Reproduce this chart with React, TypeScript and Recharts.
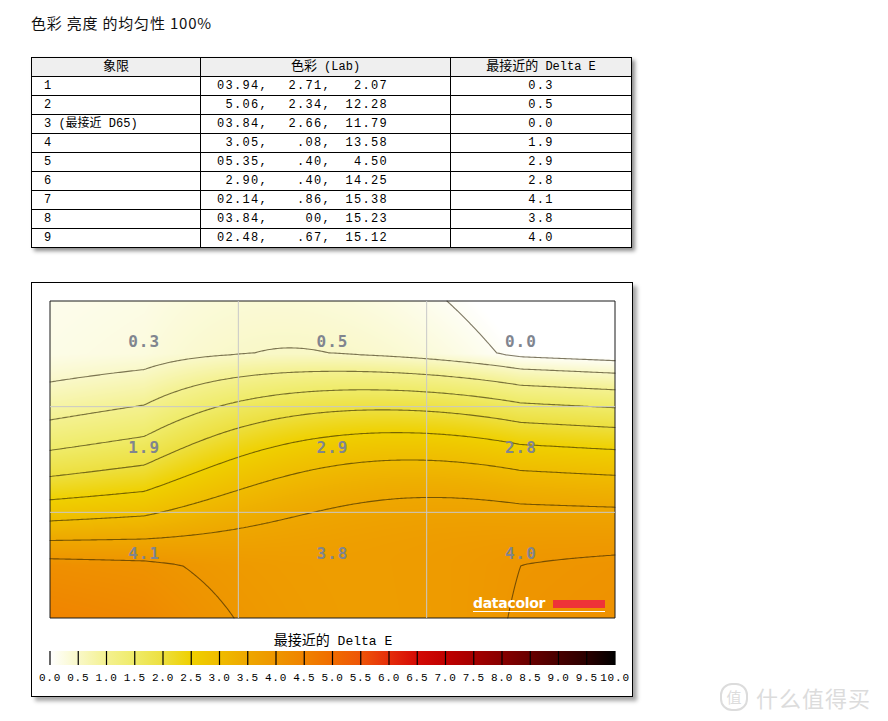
import React, { useMemo } from 'react';
import { ComposedChart, XAxis, YAxis, Scatter, ReferenceArea, ReferenceLine } from 'recharts';

// 9 measured quadrants, row-major (1-3 top row, 7-9 bottom row)
const quadrants = ['1', '2', '3 (最接近 D65)', '4', '5', '6', '7', '8', '9'];
const labL = ['03.94,', '5.06,', '03.84,', '3.05,', '05.35,', '2.90,', '02.14,', '03.84,', '02.48,'];
const labA = ['2.71,', '2.34,', '2.66,', '.08,', '.40,', '.40,', '.86,', '00,', '.67,'];
const labB = ['2.07', '12.28', '11.79', '13.58', '4.50', '14.25', '15.38', '15.23', '15.12'];
const deltaE = [0.3, 0.5, 0.0, 1.9, 2.9, 2.8, 4.1, 3.8, 4.0];

const legendTicks = [0, 0.5, 1, 1.5, 2, 2.5, 3, 3.5, 4, 4.5, 5, 5.5, 6, 6.5, 7, 7.5, 8, 8.5, 9, 9.5, 10];
const contourLevels = [0.1, 0.5, 1, 1.5, 2, 2.5, 3, 3.5, 4];

// colour ramp, one stop per legend boundary
const ramp = [
  '#ffffff', '#f9f8c8', '#f4f190', '#efeb68', '#eddf3e', '#efd000', '#efbc00', '#eea700',
  '#ee9600', '#f08300', '#f06c00', '#ee5508', '#e52d0a', '#d40a05', '#c00000', '#a50000',
  '#880000', '#680000', '#480000', '#2a0000', '#000000',
];

const mono = '"Liberation Mono", "Noto Sans CJK SC", monospace';
const cjk = '"Noto Sans CJK SC", sans-serif';

const cellPoints = deltaE.map((v, i) => ({ x: (i % 3) + 0.5, y: Math.floor(i / 3) + 0.5, v }));
const legendPoints = legendTicks.map((t) => ({ x: t, y: 0.5 }));

function hexRgb(h: string) {
  return [parseInt(h.slice(1, 3), 16), parseInt(h.slice(3, 5), 16), parseInt(h.slice(5, 7), 16)];
}
const rampRgb = ramp.map(hexRgb);

function colorAt(v: number) {
  const p = Math.max(0, Math.min(10, v)) / 0.5;
  const i = Math.min(19, Math.floor(p));
  const t = p - i;
  const a = rampRgb[i];
  const b = rampRgb[i + 1];
  return [0, 1, 2].map((k) => Math.round(a[k] + (b[k] - a[k]) * t));
}

// quadratic-slope Hermite through the three cell centres, damped linear run-out to the edges
function along(v0: number, v1: number, v2: number, s: number, kLo: number, kHi: number) {
  const p = [v0, v1, v2];
  const m = [(-3 * v0 + 4 * v1 - v2) / 2, (v2 - v0) / 2, (v0 - 4 * v1 + 3 * v2) / 2];
  const u = s - 0.5;
  if (u <= 0) return v0 + m[0] * u * kLo;
  if (u >= 2) return v2 + m[2] * (u - 2) * kHi;
  const i = u < 1 ? 0 : 1;
  const t = u - i;
  const t2 = t * t;
  const t3 = t2 * t;
  return (2 * t3 - 3 * t2 + 1) * p[i] + (t3 - 2 * t2 + t) * m[i] + (-2 * t3 + 3 * t2) * p[i + 1] + (t3 - t2) * m[i + 1];
}

function field(x: number, y: number) {
  const r = [0, 1, 2].map((k) => along(deltaE[k * 3], deltaE[k * 3 + 1], deltaE[k * 3 + 2], x, 0.3, 0.3));
  return along(r[0], r[1], r[2], y, 0.1, 0.2);
}

function HeatLayer(props: any) {
  const x = props.x;
  const y = props.y;
  const w = Math.abs(props.width);
  const h = Math.abs(props.height);
  const url = useMemo(() => {
    const W = Math.round(w);
    const H = Math.round(h);
    const cv = document.createElement('canvas');
    cv.width = W;
    cv.height = H;
    const ctx = cv.getContext('2d');
    if (!ctx) return '';
    const img = ctx.createImageData(W, H);
    for (let j = 0; j < H; j++) {
      for (let i = 0; i < W; i++) {
        const c = colorAt(field(((i + 0.5) / W) * 3, ((j + 0.5) / H) * 3));
        const o = (j * W + i) * 4;
        img.data[o] = c[0];
        img.data[o + 1] = c[1];
        img.data[o + 2] = c[2];
        img.data[o + 3] = 255;
      }
    }
    ctx.putImageData(img, 0, 0);
    return cv.toDataURL();
  }, [w, h]);
  return <image href={url} x={x} y={y} width={w} height={h} preserveAspectRatio="none" />;
}

function ContourLayer(props: any) {
  const x0 = props.x;
  const y0 = props.y;
  const w = Math.abs(props.width);
  const h = Math.abs(props.height);
  const paths = useMemo(() => {
    const step = 2;
    const nx = Math.ceil(w / step);
    const ny = Math.ceil(h / step);
    const sx = w / nx;
    const sy = h / ny;
    const grid: number[] = [];
    for (let j = 0; j <= ny; j++)
      for (let i = 0; i <= nx; i++) grid.push(field((i / nx) * 3, (j / ny) * 3));
    const g = (i: number, j: number) => grid[j * (nx + 1) + i];
    return contourLevels.map((lv) => {
      let d = '';
      for (let j = 0; j < ny; j++) {
        for (let i = 0; i < nx; i++) {
          const a = g(i, j) - lv;
          const b = g(i + 1, j) - lv;
          const c = g(i + 1, j + 1) - lv;
          const e = g(i, j + 1) - lv;
          const pts: number[][] = [];
          if (a > 0 !== b > 0) pts.push([x0 + (i + a / (a - b)) * sx, y0 + j * sy]);
          if (b > 0 !== c > 0) pts.push([x0 + (i + 1) * sx, y0 + (j + b / (b - c)) * sy]);
          if (e > 0 !== c > 0) pts.push([x0 + (i + e / (e - c)) * sx, y0 + (j + 1) * sy]);
          if (a > 0 !== e > 0) pts.push([x0 + i * sx, y0 + (j + a / (a - e)) * sy]);
          for (let k = 0; k + 1 < pts.length; k += 2) {
            d += `M${pts[k][0].toFixed(2)},${pts[k][1].toFixed(2)}L${pts[k + 1][0].toFixed(2)},${pts[k + 1][1].toFixed(2)}`;
          }
        }
      }
      return d;
    });
  }, [x0, y0, w, h]);
  return (
    <g>
      {paths.map((d, i) => (
        <path key={i} d={d} fill="none" stroke="rgba(40,30,0,0.6)" strokeWidth={1.1} strokeLinecap="round" />
      ))}
    </g>
  );
}

function CellLabel(props: any) {
  return (
    <text x={props.cx} y={props.cy - 12} textAnchor="middle" dominantBaseline="central"
      fontFamily='"DejaVu Sans Mono", monospace' fontWeight="bold" fontSize={16} fill="#80858f" letterSpacing={1}>
      {props.payload.v.toFixed(1)}
    </text>
  );
}

function LegendBar(props: any) {
  const w = Math.abs(props.width);
  const h = Math.abs(props.height);
  return (
    <g>
      <defs>
        <linearGradient id="deRamp" x1="0" y1="0" x2="1" y2="0">
          {ramp.map((c, i) => (
            <stop key={i} offset={`${(i / 20) * 100}%`} stopColor={c} />
          ))}
        </linearGradient>
      </defs>
      <rect x={props.x} y={props.y} width={w} height={h} fill="url(#deRamp)" />
    </g>
  );
}

const cell: React.CSSProperties = { border: '1px solid #000', padding: 0, height: 18, lineHeight: '18px' };
const headCell: React.CSSProperties = { ...cell, height: 17, lineHeight: '17px', background: '#efefef', textAlign: 'center' };

export default function App() {
  return (
    <div style={{ position: 'absolute', left: 0, top: 0, width: 888, height: 721, background: '#fff', overflow: 'hidden' }}>
      <div style={{ position: 'absolute', left: 31, top: 12, fontFamily: cjk, fontSize: 15, letterSpacing: 0.8, color: '#111', whiteSpace: 'pre' }}>
        色彩 亮度 的均匀性 100%
      </div>

      <table style={{ position: 'absolute', left: 31, top: 57, width: 601, borderCollapse: 'collapse', fontFamily: mono, fontSize: 12, color: '#000', boxShadow: '3px 3px 4px rgba(0,0,0,0.45)', tableLayout: 'fixed' }}>
        <colgroup>
          <col style={{ width: 169 }} />
          <col style={{ width: 250 }} />
          <col style={{ width: 181 }} />
        </colgroup>
        <thead>
          <tr>
            <th style={{ ...headCell, fontWeight: 'normal' }}><span style={{ fontSize: 13 }}>象限</span></th>
            <th style={{ ...headCell, fontWeight: 'normal' }}><span style={{ fontSize: 13 }}>色彩</span> (Lab)</th>
            <th style={{ ...headCell, fontWeight: 'normal' }}><span style={{ fontSize: 13 }}>最接近的</span> Delta E</th>
          </tr>
        </thead>
        <tbody>
          {quadrants.map((q, i) => (
            <tr key={q}>
              <td style={{ ...cell, paddingLeft: 12 }}>{q}</td>
              <td style={{ ...cell, whiteSpace: 'pre', letterSpacing: 1.3 }}>
                <span style={{ display: 'inline-block', width: 67, textAlign: 'right' }}>{labL[i]}</span>
                <span style={{ display: 'inline-block', width: 63, textAlign: 'right' }}>{labA[i]}</span>
                <span style={{ display: 'inline-block', width: 57, textAlign: 'right' }}>{labB[i]}</span>
              </td>
              <td style={{ ...cell, textAlign: 'center', letterSpacing: 1.3 }}>{deltaE[i].toFixed(1)}</td>
            </tr>
          ))}
        </tbody>
      </table>

      <div style={{ position: 'absolute', left: 31, top: 282, width: 600, height: 413, border: '1px solid #000', background: '#fff', boxShadow: '4px 4px 4px rgba(0,0,0,0.35)' }}>
        <ComposedChart width={600} height={413} margin={{ top: 18, right: 17, bottom: 78, left: 18 }}>
          <XAxis type="number" dataKey="x" domain={[0, 3]} hide />
          <YAxis type="number" dataKey="y" domain={[0, 3]} reversed hide />
          <ReferenceArea x1={0} x2={3} y1={0} y2={3} shape={(p: any) => <HeatLayer {...p} />} />
          <ReferenceLine x={1} stroke="#c8c8c8" strokeWidth={1} />
          <ReferenceLine x={2} stroke="#c8c8c8" strokeWidth={1} />
          <ReferenceLine y={1} stroke="#c8c8c8" strokeWidth={1} />
          <ReferenceLine y={2} stroke="#c8c8c8" strokeWidth={1} />
          <ReferenceArea x1={0} x2={3} y1={0} y2={3} shape={(p: any) => <ContourLayer {...p} />} />
          <ReferenceArea x1={0} x2={3} y1={0} y2={3} fill="none" fillOpacity={0} stroke="#1a1a1a" strokeWidth={1} />
          <Scatter data={cellPoints} shape={(p: any) => <CellLabel {...p} />} isAnimationActive={false} />
        </ComposedChart>

        <div style={{ position: 'absolute', left: 441, top: 313, fontFamily: '"DejaVu Sans", sans-serif', fontWeight: 'bold', fontSize: 14, color: '#fff', letterSpacing: -0.3, lineHeight: '14px' }}>
          datacolor
        </div>
        <div style={{ position: 'absolute', left: 521, top: 317, width: 52, height: 8, background: '#ee3338' }} />
        <div style={{ position: 'absolute', left: 441, top: 328, width: 132, height: 1, background: '#fff' }} />

        <div style={{ position: 'absolute', left: 0, top: 346, width: 602, textAlign: 'center', fontFamily: mono, fontSize: 13, color: '#000' }}>
          <span style={{ fontSize: 14 }}>最接近的</span> Delta E
        </div>

        <div style={{ position: 'absolute', left: 0, top: 362, width: 600, height: 45 }}>
          <ComposedChart width={600} height={45} margin={{ top: 6, right: 17, bottom: 0, left: 18 }}>
            <XAxis type="number" dataKey="x" domain={[0, 10]} ticks={legendTicks} interval={0} axisLine={false} tickLine={false}
              height={25} tickFormatter={(v: number) => v.toFixed(1)}
              tick={{ fontSize: 11, fontFamily: mono, fill: '#000', letterSpacing: 0.8 }} />
            <YAxis type="number" dataKey="y" domain={[0, 1]} hide />
            <ReferenceArea x1={0} x2={10} y1={0} y2={1} shape={(p: any) => <LegendBar {...p} />} />
            {legendTicks.map((t) => (
              <ReferenceLine key={t} x={t} stroke="#000" strokeWidth={1.2} />
            ))}
            <Scatter data={legendPoints} shape={() => <g />} isAnimationActive={false} />
          </ComposedChart>
        </div>
      </div>

      <div style={{ position: 'absolute', left: 720, top: 681, display: 'flex', alignItems: 'center', color: '#dcdcdc', fontFamily: cjk }}>
        <div style={{ width: 24, height: 24, borderRadius: 12, border: '2px solid #dcdcdc', fontSize: 15, lineHeight: '24px', textAlign: 'center', marginRight: 8 }}>值</div>
        <div style={{ fontSize: 22, letterSpacing: 1 }}>什么值得买</div>
      </div>
    </div>
  );
}
